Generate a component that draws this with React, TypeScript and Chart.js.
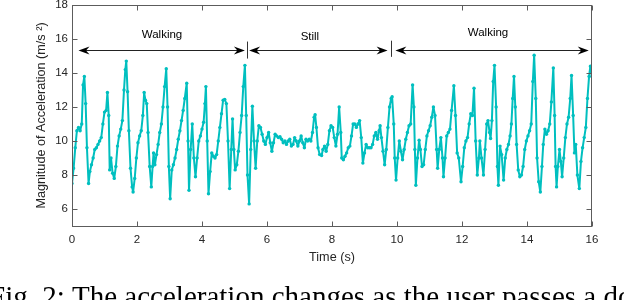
import React, { useEffect, useRef } from "react";
import { Chart, registerables } from "chart.js";

Chart.register(...registerables);

// sample times (s) and magnitude of acceleration (m/s^2)
const timeS = [
  0.0, 0.05, 0.1, 0.15, 0.2, 0.25, 0.3, 0.34, 0.38, 0.42, 0.46, 0.51, 0.55, 0.6, 0.65, 0.7, 0.75, 0.8, 0.85, 0.9,
  0.95, 1.0, 1.05, 1.09, 1.13, 1.16, 1.2, 1.25, 1.3, 1.35, 1.4, 1.45, 1.5, 1.55, 1.6, 1.64, 1.67, 1.71, 1.75, 1.8,
  1.85, 1.88, 1.93, 1.98, 2.03, 2.08, 2.13, 2.18, 2.22, 2.26, 2.3, 2.34, 2.39, 2.44, 2.48, 2.51, 2.55, 2.6, 2.65, 2.7,
  2.75, 2.8, 2.85, 2.9, 2.94, 2.98, 3.02, 3.07, 3.12, 3.17, 3.22, 3.27, 3.32, 3.37, 3.42, 3.47, 3.53, 3.57, 3.6, 3.65,
  3.7, 3.75, 3.8, 3.85, 3.9, 3.95, 4.0, 4.05, 4.09, 4.12, 4.16, 4.2, 4.25, 4.3, 4.35, 4.4, 4.45, 4.5, 4.55, 4.6,
  4.65, 4.7, 4.75, 4.8, 4.85, 4.9, 4.94, 4.98, 5.02, 5.07, 5.12, 5.17, 5.22, 5.27, 5.32, 5.36, 5.4, 5.45, 5.5, 5.55,
  5.6, 5.65, 5.7, 5.75, 5.8, 5.85, 5.9, 5.95, 6.0, 6.05, 6.1, 6.15, 6.2, 6.25, 6.3, 6.35, 6.4, 6.45, 6.5, 6.55,
  6.6, 6.65, 6.7, 6.75, 6.8, 6.85, 6.9, 6.95, 7.0, 7.05, 7.1, 7.15, 7.2, 7.25, 7.3, 7.35, 7.4, 7.45, 7.48, 7.52,
  7.57, 7.62, 7.68, 7.72, 7.77, 7.82, 7.87, 7.92, 7.97, 8.02, 8.07, 8.12, 8.17, 8.22, 8.27, 8.3, 8.35, 8.4, 8.45, 8.5,
  8.55, 8.6, 8.65, 8.7, 8.75, 8.8, 8.85, 8.9, 8.95, 9.0, 9.05, 9.1, 9.15, 9.2, 9.25, 9.3, 9.35, 9.4, 9.45, 9.48,
  9.52, 9.57, 9.62, 9.67, 9.72, 9.77, 9.82, 9.85, 9.9, 9.93, 9.97, 10.02, 10.07, 10.12, 10.17, 10.22, 10.27, 10.32, 10.37, 10.42,
  10.48, 10.52, 10.55, 10.58, 10.63, 10.68, 10.72, 10.77, 10.82, 10.87, 10.92, 10.97, 11.02, 11.07, 11.12, 11.17, 11.22, 11.25, 11.3, 11.35,
  11.4, 11.43, 11.48, 11.53, 11.58, 11.63, 11.68, 11.75, 11.8, 11.85, 11.9, 11.97, 12.02, 12.07, 12.12, 12.17, 12.22, 12.27, 12.32, 12.37,
  12.42, 12.47, 12.52, 12.55, 12.6, 12.66, 12.71, 12.76, 12.8, 12.85, 12.88, 12.92, 12.96, 13.0, 13.05, 13.09, 13.12, 13.17, 13.22, 13.28,
  13.33, 13.38, 13.43, 13.48, 13.52, 13.56, 13.6, 13.64, 13.68, 13.73, 13.78, 13.83, 13.88, 13.93, 13.98, 14.03, 14.08, 14.13, 14.18, 14.22,
  14.27, 14.31, 14.36, 14.41, 14.46, 14.5, 14.55, 14.6, 14.65, 14.7, 14.75, 14.81, 14.85, 14.88, 14.91, 14.95, 15.0, 15.04, 15.08, 15.13,
  15.18, 15.23, 15.28, 15.33, 15.37, 15.42, 15.46, 15.5, 15.55, 15.61, 15.66, 15.71, 15.76, 15.81, 15.86, 15.91, 15.95, 16.0,
];

const accel = [
  7.5, 8.4, 9.6, 10.6, 10.8, 10.6, 11.0, 13.3, 13.8, 12.2, 9.6, 7.5, 8.2, 8.6, 9.0, 9.5, 9.6, 9.8, 10.0, 10.2,
  11.0, 11.7, 11.8, 12.85, 11.5, 8.3, 9.0, 8.1, 7.8, 8.5, 9.7, 10.3, 10.7, 11.2, 13.0, 14.2, 14.7, 12.9, 10.6, 8.4,
  7.3, 7.0, 7.8, 9.0, 9.9, 10.3, 10.6, 11.5, 12.85, 12.4, 12.2, 10.5, 8.5, 7.3, 8.5, 9.3, 8.6, 9.2, 9.8, 10.5,
  11.0, 12.0, 13.2, 14.25, 12.0, 8.5, 6.6, 8.3, 8.6, 9.0, 9.5, 10.1, 10.6, 11.2, 11.8, 12.5, 13.4, 10.0, 7.1, 9.5,
  11.0, 9.0, 7.9, 9.0, 10.0, 10.3, 10.7, 11.1, 12.2, 13.2, 10.0, 6.9, 8.2, 9.3, 9.1, 9.0, 9.2, 10.0, 10.8, 11.6,
  12.4, 12.45, 12.2, 10.0, 7.2, 9.5, 11.3, 9.5, 8.3, 8.6, 9.4, 10.5, 11.5, 13.2, 14.45, 11.5, 8.0, 6.3, 9.5, 12.05,
  10.0, 8.4, 10.0, 10.9, 10.8, 10.4, 10.0, 9.8, 10.2, 10.5, 9.9, 9.4, 9.9, 10.4, 10.3, 10.2, 10.25, 10.1, 9.9, 10.0,
  9.8, 10.0, 10.1, 9.7, 9.8, 10.2, 10.0, 9.7, 10.0, 10.3, 9.9, 9.6, 10.1, 10.0, 10.1, 10.0, 10.5, 11.4, 11.55, 10.8,
  9.6, 9.2, 9.15, 9.5, 9.7, 9.4, 9.8, 10.6, 10.9, 10.8, 10.2, 9.7, 10.4, 12.0, 10.5, 9.0, 8.9, 9.1, 9.3, 9.6,
  9.7, 10.3, 11.0, 11.0, 10.8, 11.0, 11.2, 10.2, 8.7, 9.3, 9.8, 9.6, 9.6, 9.6, 9.8, 10.3, 10.5, 10.1, 10.6, 10.9,
  10.2, 9.4, 8.6, 9.5, 10.8, 12.0, 12.5, 12.6, 11.0, 9.0, 7.7, 9.0, 10.0, 9.4, 8.9, 9.5, 10.1, 10.5, 10.9, 11.0,
  13.3, 12.0, 9.5, 7.4, 9.0, 10.05, 9.5, 8.5, 8.6, 9.5, 10.3, 10.6, 10.9, 11.4, 12.0, 11.5, 9.5, 8.4, 9.5, 10.2,
  9.0, 7.9, 9.0, 10.3, 10.5, 10.7, 11.8, 13.25, 11.5, 9.3, 9.0, 7.6, 8.5, 9.6, 10.0, 10.2, 11.0, 11.6, 11.5, 13.1,
  10.0, 8.0, 9.0, 10.0, 9.0, 8.0, 9.5, 11.0, 11.2, 10.5, 10.15, 11.2, 13.5, 14.45, 12.0, 8.5, 7.4, 9.7, 9.2, 7.7,
  9.0, 9.5, 9.8, 10.3, 11.0, 12.5, 13.8, 12.0, 9.8, 8.3, 7.9, 8.0, 8.5, 9.5, 10.0, 10.3, 10.6, 11.0, 13.5, 15.05,
  12.5, 9.0, 7.6, 7.0, 8.5, 9.8, 10.7, 10.4, 10.6, 11.0, 12.3, 14.3, 11.5, 8.5, 7.3, 8.5, 9.5, 8.8, 7.9, 9.0,
  10.2, 11.0, 11.4, 12.5, 13.85, 11.5, 9.3, 9.8, 8.0, 7.2, 8.8, 9.6, 10.2, 10.8, 12.5, 13.8, 14.4, 13.8,
];

const xTicks = [0, 2, 4, 6, 8, 10, 12, 14, 16];
const yTicks = [6, 8, 10, 12, 14, 16, 18];

// activity annotations (data coordinates)
const phaseLabels = ["Walking", "Still", "Walking"];
const phaseStart = [0.2, 5.45, 9.95];
const phaseEnd = [5.32, 9.71, 15.9];
const phaseLabelT = [2.77, 7.32, 12.8];
const phaseLabelV = [16.26, 16.1, 16.35];
const arrowV = 15.37;
const dividerT = [5.37, 9.81];
const dividerLow = [14.85, 14.95];
const dividerHigh = [15.85, 15.9];

const FONT = "'Liberation Sans', Arial, Helvetica, sans-serif";
const AXIS_COLOR = "#262626";
const LINE_COLOR = "#00BFBF";

function drawArrowHead(ctx: CanvasRenderingContext2D, tipX: number, y: number, dir: number) {
  const L = 11;
  const W = 4;
  const notch = 3.5;
  ctx.beginPath();
  ctx.moveTo(tipX, y);
  ctx.lineTo(tipX - dir * L, y - W);
  ctx.lineTo(tipX - dir * (L - notch), y);
  ctx.lineTo(tipX - dir * L, y + W);
  ctx.closePath();
  ctx.fill();
}

const matlabAxes = {
  id: "matlabAxes",
  afterDatasetsDraw(chart: any) {
    const { ctx, chartArea: a, scales } = chart;
    const x = scales.x;
    const y = scales.y;
    ctx.save();
    const L = Math.round(a.left) + 0.5;
    const R = Math.round(a.right) - 0.5;
    const T = Math.round(a.top) + 0.5;
    const B = Math.round(a.bottom) + 0.5;
    ctx.strokeStyle = "#5c5c5c";
    ctx.lineWidth = 1;
    ctx.strokeRect(L, T, R - L, B - T);
    ctx.beginPath();
    xTicks.forEach((v) => {
      const px = Math.round(x.getPixelForValue(v)) + 0.5;
      ctx.moveTo(px, B);
      ctx.lineTo(px, B - 5);
      ctx.moveTo(px, T);
      ctx.lineTo(px, T + 5);
    });
    yTicks.forEach((v) => {
      const py = Math.round(y.getPixelForValue(v)) + 0.5;
      ctx.moveTo(L, py);
      ctx.lineTo(L + 5, py);
      ctx.moveTo(R, py);
      ctx.lineTo(R - 5, py);
    });
    ctx.stroke();

    const ay = Math.round(y.getPixelForValue(arrowV)) + 0.5;
    ctx.strokeStyle = "#222";
    ctx.fillStyle = "#000";
    ctx.lineWidth = 1;
    phaseLabels.forEach((lab, i) => {
      const x0 = x.getPixelForValue(phaseStart[i]);
      const x1 = x.getPixelForValue(phaseEnd[i]);
      ctx.beginPath();
      ctx.moveTo(x0 + 5, ay);
      ctx.lineTo(x1 - 5, ay);
      ctx.stroke();
      drawArrowHead(ctx, x0, ay, -1);
      drawArrowHead(ctx, x1, ay, 1);
      ctx.font = `11.5px ${FONT}`;
      ctx.textAlign = "center";
      ctx.textBaseline = "middle";
      ctx.fillText(lab, x.getPixelForValue(phaseLabelT[i]), y.getPixelForValue(phaseLabelV[i]));
    });
    ctx.strokeStyle = "#333";
    dividerT.forEach((t, i) => {
      const px = Math.round(x.getPixelForValue(t)) + 0.5;
      ctx.beginPath();
      ctx.moveTo(px, y.getPixelForValue(dividerHigh[i]));
      ctx.lineTo(px, y.getPixelForValue(dividerLow[i]));
      ctx.stroke();
    });
    ctx.restore();
  },
};

export default function App() {
  const canvasRef = useRef<HTMLCanvasElement | null>(null);

  useEffect(() => {
    const canvas = canvasRef.current;
    if (!canvas) return;
    const points = timeS.map((t, i) => ({ x: t, y: accel[i] }));
    const tickFont = { family: FONT, size: 11.5 };
    const labelFont = { family: FONT, size: 12.65 };
    const chart = new Chart(canvas, {
      type: "line",
      data: {
        datasets: [
          {
            data: points,
            borderColor: LINE_COLOR,
            backgroundColor: LINE_COLOR,
            borderWidth: 2,
            borderJoinStyle: "round",
            borderCapStyle: "round",
            pointRadius: 1.7,
            pointBorderWidth: 0,
            pointBackgroundColor: LINE_COLOR,
            tension: 0,
            fill: false,
          },
        ],
      },
      options: {
        animation: false,
        responsive: false,
        devicePixelRatio: 1,
        layout: { padding: { left: 0, top: 5, right: 32, bottom: 0 } },
        plugins: {
          legend: { display: false },
          tooltip: { enabled: false },
        },
        scales: {
          x: {
            type: "linear",
            min: 0,
            max: 16,
            afterBuildTicks: (s: any) => {
              s.ticks = xTicks.map((v) => ({ value: v }));
            },
            afterFit: (s: any) => {
              s.height = 74;
              s.paddingLeft = 0;
              s.paddingRight = 0;
            },
            grid: { display: false, drawTicks: false },
            border: { display: false },
            ticks: {
              padding: 6.6,
              font: tickFont,
              color: AXIS_COLOR,
              maxRotation: 0,
              autoSkip: false,
            },
            title: {
              display: true,
              text: "Time (s)",
              font: labelFont,
              color: AXIS_COLOR,
              padding: { top: 0, bottom: 34.4 },
            },
          },
          y: {
            type: "linear",
            min: 5,
            max: 18,
            afterBuildTicks: (s: any) => {
              s.ticks = yTicks.map((v) => ({ value: v }));
            },
            afterFit: (s: any) => {
              s.width = 72;
              s.paddingTop = 0;
              s.paddingBottom = 0;
            },
            grid: { display: false, drawTicks: false },
            border: { display: false },
            ticks: {
              padding: 4,
              font: tickFont,
              color: AXIS_COLOR,
              autoSkip: false,
            },
            title: {
              display: true,
              text: "Magnitude of Acceleration (m/s \u00B2)",
              font: labelFont,
              color: AXIS_COLOR,
              padding: { top: 34.4, bottom: 0 },
            },
          },
        },
      },
      plugins: [matlabAxes],
    } as any);
    return () => chart.destroy();
  }, []);

  return (
    <div
      style={{
        position: "fixed",
        left: 0,
        top: 0,
        width: 624,
        height: 300,
        overflow: "hidden",
        background: "#fff",
      }}
    >
      <canvas ref={canvasRef} width={624} height={300} style={{ position: "absolute", left: 0, top: 0, width: 624, height: 300 }} />
      <div
        style={{
          position: "absolute",
          left: 72,
          top: 282,
          fontFamily: "'Liberation Serif', 'Times New Roman', serif",
          fontSize: 29,
          lineHeight: "29px",
          whiteSpace: "nowrap",
          color: "#000",
        }}
      >
        <span style={{ position: "absolute", right: "100%", top: 0 }}>Fig.&nbsp;2:&nbsp;</span>
        The acceleration changes as the user passes a door
      </div>
    </div>
  );
}
